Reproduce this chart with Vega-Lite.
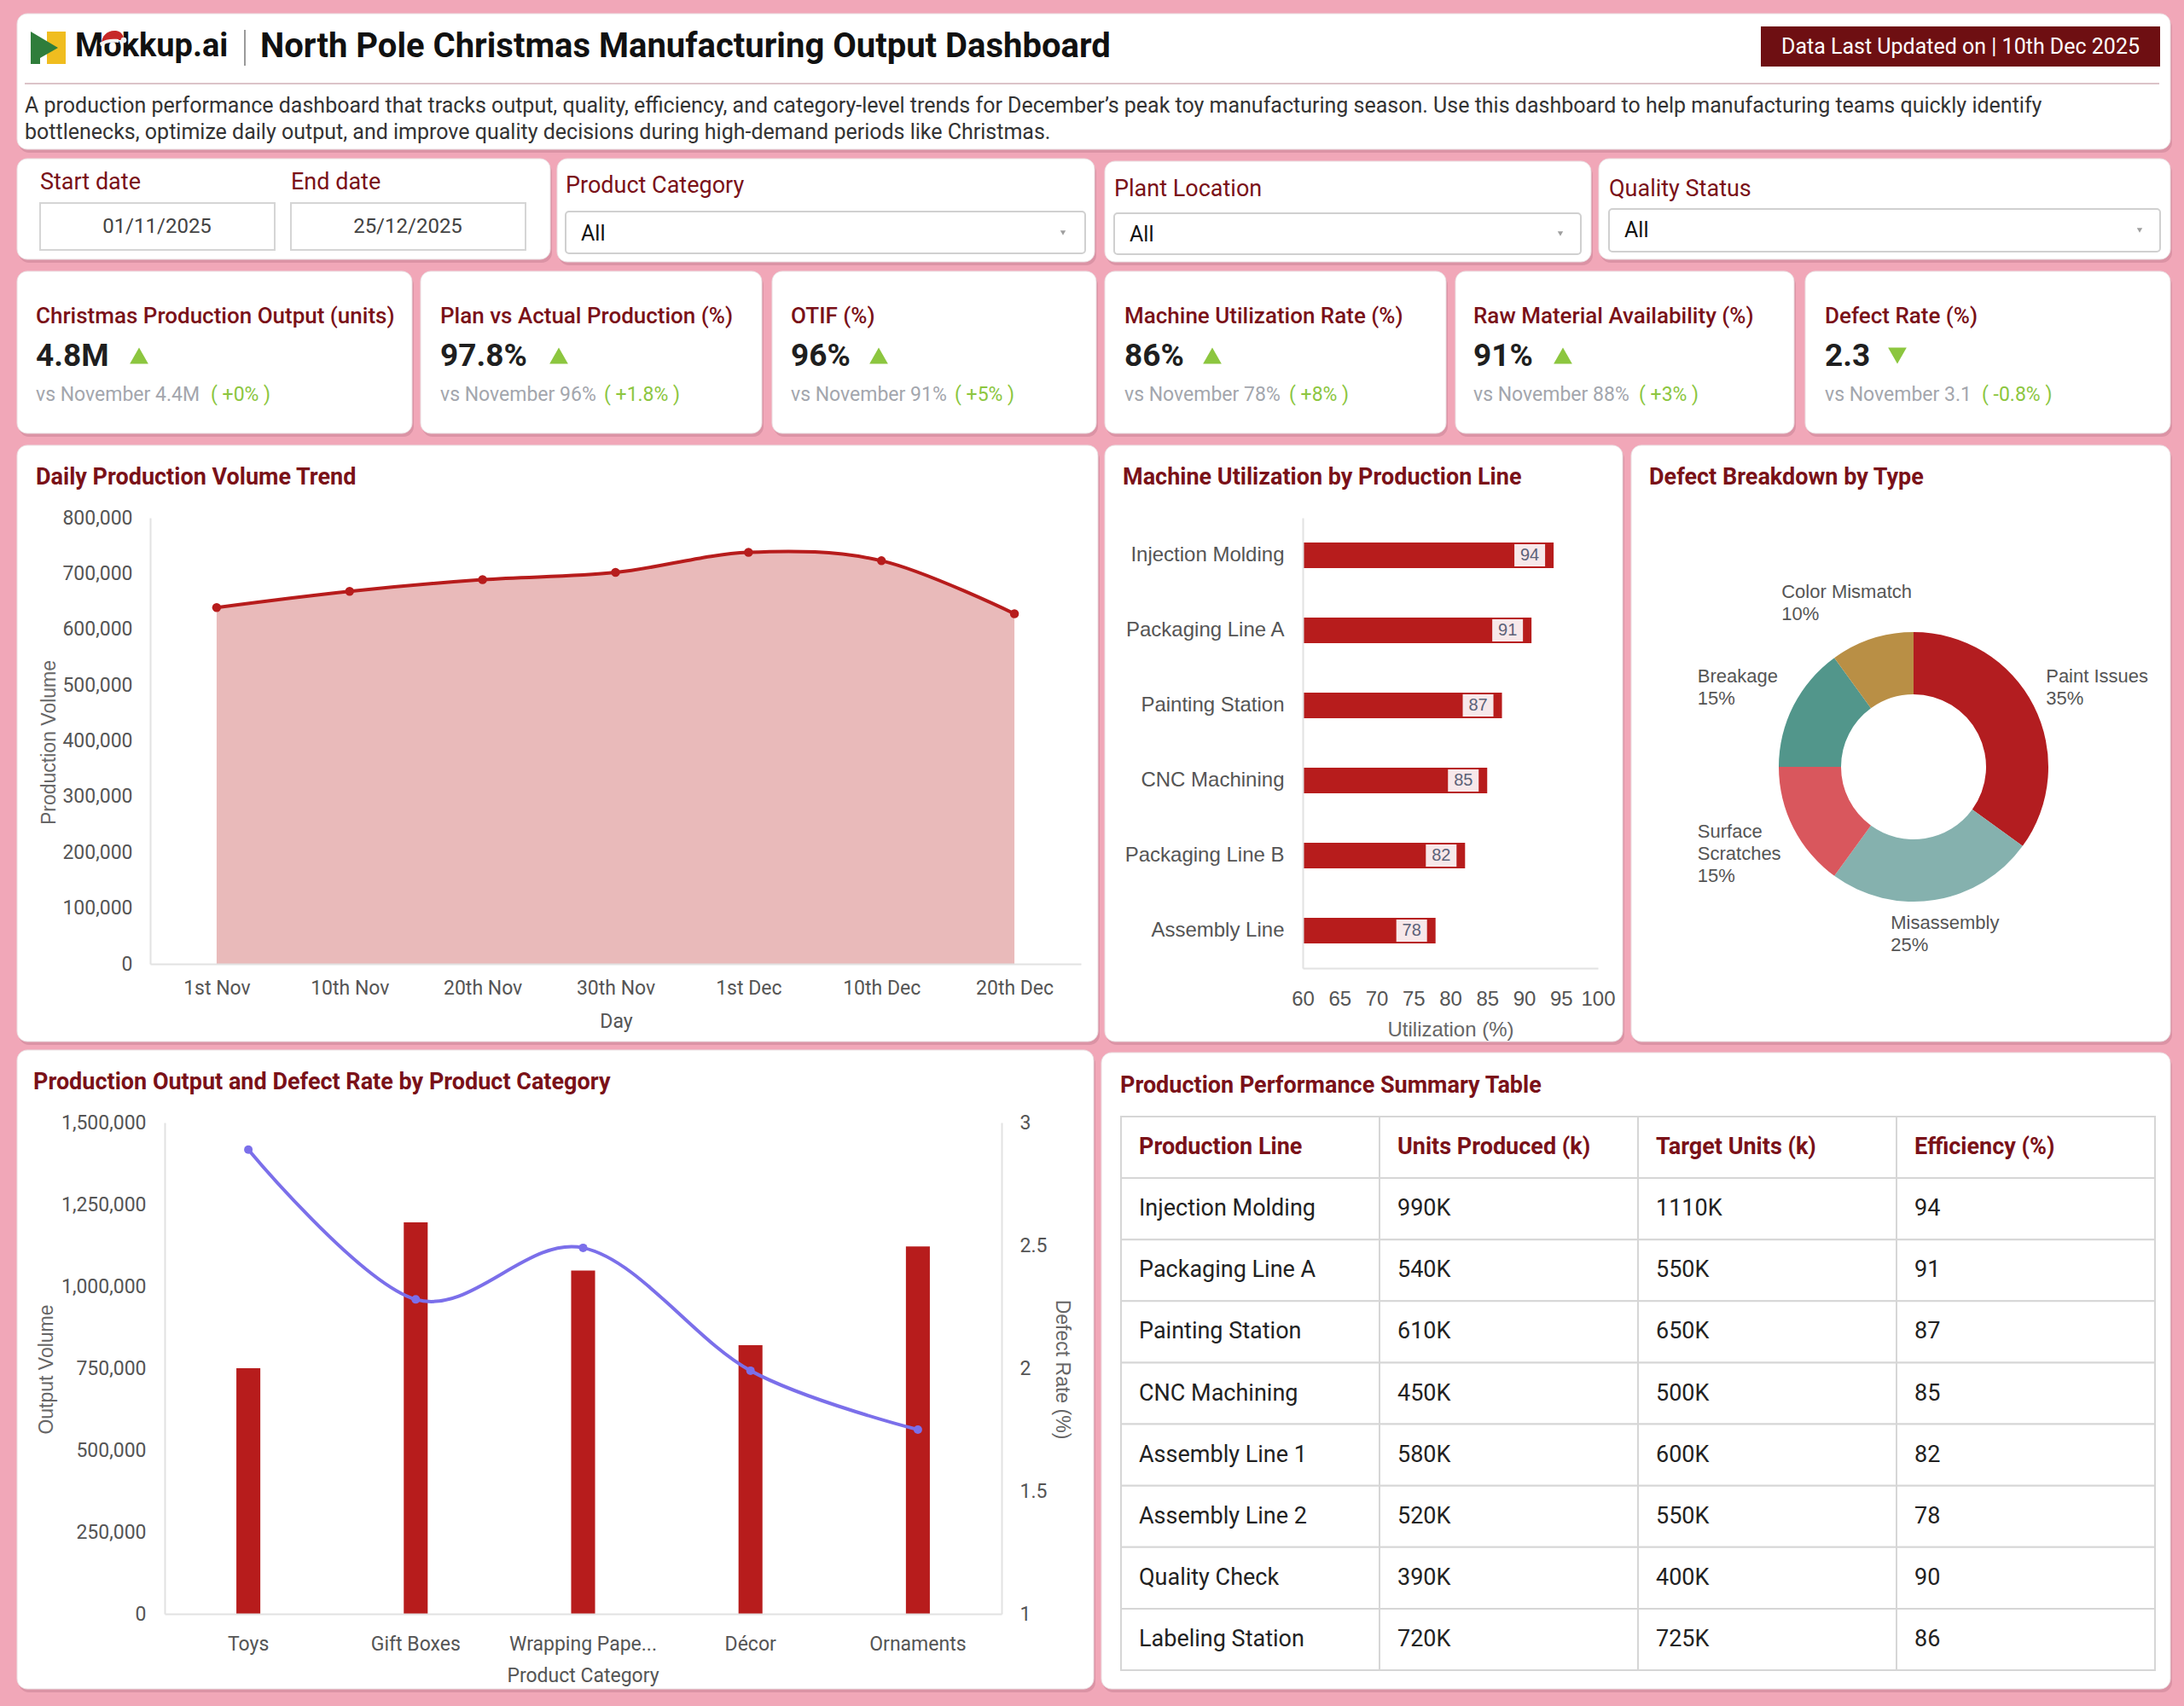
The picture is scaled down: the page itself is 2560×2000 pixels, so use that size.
{
  "$schema": "https://vega.github.io/schema/vega-lite/v6.json",
  "width": 2560,
  "height": 2000,
  "autosize": {"type": "none"},
  "padding": 0,
  "background": "#F1A7B8",
  "config": {
    "view": {"stroke": null},
    "font": "Roboto",
    "text": {"font": "Roboto"},
    "axis": {
      "labelFont": "Roboto", "labelFontSize": 23, "labelColor": "#555555",
      "titleFont": "Liberation Sans", "titleFontSize": 23, "titleColor": "#666666", "titleFontWeight": "normal",
      "domainColor": "#E2E2E2", "domainWidth": 2, "ticks": false, "tickSize": 0, "grid": false,
      "labelOverlap": false, "labelFlush": false, "labelAngle": 0, "labelBound": false, "labelLimit": 400
    }
  },
  "data": {"values": [{}]},
  "resolve": {
    "scale": {"x": "independent", "y": "independent", "color": "independent"},
    "axis": {"x": "independent", "y": "independent"}
  },
  "layer": [
    {"mark": {"type": "rect", "fill": "#c67f91", "opacity": 0.5, "cornerRadius": 12}, "encoding": {"x": {"value": 22}, "x2": {"value": 2546}, "y": {"value": 20}, "y2": {"value": 179}}},
    {"mark": {"type": "rect", "fill": "#ffffff", "cornerRadius": 12, "stroke": "#eadfe2", "strokeWidth": 1}, "encoding": {"x": {"value": 20}, "x2": {"value": 2544}, "y": {"value": 16}, "y2": {"value": 175}}},

    {"mark": {"type": "rect", "fill": "#c67f91", "opacity": 0.5, "cornerRadius": 12}, "encoding": {"x": {"value": 22}, "x2": {"value": 647}, "y": {"value": 190}, "y2": {"value": 308}}},
    {"mark": {"type": "rect", "fill": "#ffffff", "cornerRadius": 12, "stroke": "#eadfe2", "strokeWidth": 1}, "encoding": {"x": {"value": 20}, "x2": {"value": 645}, "y": {"value": 186}, "y2": {"value": 304}}},
    {"mark": {"type": "rect", "fill": "#c67f91", "opacity": 0.5, "cornerRadius": 12}, "encoding": {"x": {"value": 655}, "x2": {"value": 1285}, "y": {"value": 190}, "y2": {"value": 311}}},
    {"mark": {"type": "rect", "fill": "#ffffff", "cornerRadius": 12, "stroke": "#eadfe2", "strokeWidth": 1}, "encoding": {"x": {"value": 653}, "x2": {"value": 1283}, "y": {"value": 186}, "y2": {"value": 307}}},
    {"mark": {"type": "rect", "fill": "#c67f91", "opacity": 0.5, "cornerRadius": 12}, "encoding": {"x": {"value": 1297}, "x2": {"value": 1867}, "y": {"value": 193}, "y2": {"value": 311}}},
    {"mark": {"type": "rect", "fill": "#ffffff", "cornerRadius": 12, "stroke": "#eadfe2", "strokeWidth": 1}, "encoding": {"x": {"value": 1295}, "x2": {"value": 1865}, "y": {"value": 189}, "y2": {"value": 307}}},
    {"mark": {"type": "rect", "fill": "#c67f91", "opacity": 0.5, "cornerRadius": 12}, "encoding": {"x": {"value": 1876}, "x2": {"value": 2546}, "y": {"value": 190}, "y2": {"value": 308}}},
    {"mark": {"type": "rect", "fill": "#ffffff", "cornerRadius": 12, "stroke": "#eadfe2", "strokeWidth": 1}, "encoding": {"x": {"value": 1874}, "x2": {"value": 2544}, "y": {"value": 186}, "y2": {"value": 304}}},

    {"mark": {"type": "rect", "fill": "#c67f91", "opacity": 0.5, "cornerRadius": 12}, "encoding": {"x": {"value": 22}, "x2": {"value": 485}, "y": {"value": 322}, "y2": {"value": 512}}},
    {"mark": {"type": "rect", "fill": "#ffffff", "cornerRadius": 12, "stroke": "#eadfe2", "strokeWidth": 1}, "encoding": {"x": {"value": 20}, "x2": {"value": 483}, "y": {"value": 318}, "y2": {"value": 508}}},
    {"mark": {"type": "rect", "fill": "#c67f91", "opacity": 0.5, "cornerRadius": 12}, "encoding": {"x": {"value": 495}, "x2": {"value": 895}, "y": {"value": 322}, "y2": {"value": 512}}},
    {"mark": {"type": "rect", "fill": "#ffffff", "cornerRadius": 12, "stroke": "#eadfe2", "strokeWidth": 1}, "encoding": {"x": {"value": 493}, "x2": {"value": 893}, "y": {"value": 318}, "y2": {"value": 508}}},
    {"mark": {"type": "rect", "fill": "#c67f91", "opacity": 0.5, "cornerRadius": 12}, "encoding": {"x": {"value": 907}, "x2": {"value": 1287}, "y": {"value": 322}, "y2": {"value": 512}}},
    {"mark": {"type": "rect", "fill": "#ffffff", "cornerRadius": 12, "stroke": "#eadfe2", "strokeWidth": 1}, "encoding": {"x": {"value": 905}, "x2": {"value": 1285}, "y": {"value": 318}, "y2": {"value": 508}}},
    {"mark": {"type": "rect", "fill": "#c67f91", "opacity": 0.5, "cornerRadius": 12}, "encoding": {"x": {"value": 1297}, "x2": {"value": 1697}, "y": {"value": 322}, "y2": {"value": 512}}},
    {"mark": {"type": "rect", "fill": "#ffffff", "cornerRadius": 12, "stroke": "#eadfe2", "strokeWidth": 1}, "encoding": {"x": {"value": 1295}, "x2": {"value": 1695}, "y": {"value": 318}, "y2": {"value": 508}}},
    {"mark": {"type": "rect", "fill": "#c67f91", "opacity": 0.5, "cornerRadius": 12}, "encoding": {"x": {"value": 1708}, "x2": {"value": 2105}, "y": {"value": 322}, "y2": {"value": 512}}},
    {"mark": {"type": "rect", "fill": "#ffffff", "cornerRadius": 12, "stroke": "#eadfe2", "strokeWidth": 1}, "encoding": {"x": {"value": 1706}, "x2": {"value": 2103}, "y": {"value": 318}, "y2": {"value": 508}}},
    {"mark": {"type": "rect", "fill": "#c67f91", "opacity": 0.5, "cornerRadius": 12}, "encoding": {"x": {"value": 2118}, "x2": {"value": 2546}, "y": {"value": 322}, "y2": {"value": 512}}},
    {"mark": {"type": "rect", "fill": "#ffffff", "cornerRadius": 12, "stroke": "#eadfe2", "strokeWidth": 1}, "encoding": {"x": {"value": 2116}, "x2": {"value": 2544}, "y": {"value": 318}, "y2": {"value": 508}}},

    {"mark": {"type": "rect", "fill": "#c67f91", "opacity": 0.5, "cornerRadius": 12}, "encoding": {"x": {"value": 22}, "x2": {"value": 1289}, "y": {"value": 526}, "y2": {"value": 1225}}},
    {"mark": {"type": "rect", "fill": "#ffffff", "cornerRadius": 12, "stroke": "#eadfe2", "strokeWidth": 1}, "encoding": {"x": {"value": 20}, "x2": {"value": 1287}, "y": {"value": 522}, "y2": {"value": 1221}}},
    {"mark": {"type": "rect", "fill": "#c67f91", "opacity": 0.5, "cornerRadius": 12}, "encoding": {"x": {"value": 1297}, "x2": {"value": 1904}, "y": {"value": 526}, "y2": {"value": 1225}}},
    {"mark": {"type": "rect", "fill": "#ffffff", "cornerRadius": 12, "stroke": "#eadfe2", "strokeWidth": 1}, "encoding": {"x": {"value": 1295}, "x2": {"value": 1902}, "y": {"value": 522}, "y2": {"value": 1221}}},
    {"mark": {"type": "rect", "fill": "#c67f91", "opacity": 0.5, "cornerRadius": 12}, "encoding": {"x": {"value": 1914}, "x2": {"value": 2546}, "y": {"value": 526}, "y2": {"value": 1225}}},
    {"mark": {"type": "rect", "fill": "#ffffff", "cornerRadius": 12, "stroke": "#eadfe2", "strokeWidth": 1}, "encoding": {"x": {"value": 1912}, "x2": {"value": 2544}, "y": {"value": 522}, "y2": {"value": 1221}}},

    {"mark": {"type": "rect", "fill": "#c67f91", "opacity": 0.5, "cornerRadius": 12}, "encoding": {"x": {"value": 22}, "x2": {"value": 1284}, "y": {"value": 1235}, "y2": {"value": 1984}}},
    {"mark": {"type": "rect", "fill": "#ffffff", "cornerRadius": 12, "stroke": "#eadfe2", "strokeWidth": 1}, "encoding": {"x": {"value": 20}, "x2": {"value": 1282}, "y": {"value": 1231}, "y2": {"value": 1980}}},
    {"mark": {"type": "rect", "fill": "#c67f91", "opacity": 0.5, "cornerRadius": 12}, "encoding": {"x": {"value": 1293}, "x2": {"value": 2546}, "y": {"value": 1238}, "y2": {"value": 1984}}},
    {"mark": {"type": "rect", "fill": "#ffffff", "cornerRadius": 12, "stroke": "#eadfe2", "strokeWidth": 1}, "encoding": {"x": {"value": 1291}, "x2": {"value": 2544}, "y": {"value": 1234}, "y2": {"value": 1980}}},

    {"mark": {"type": "point", "shape": "M55,37H77V75H55Z", "size": 4, "filled": true, "color": "#F0BD1F", "opacity": 1}, "encoding": {"x": {"value": 0}, "y": {"value": 0}}},
    {"mark": {"type": "point", "shape": "M36,37L68,56L47,68V75H36Z", "size": 4, "filled": true, "color": "#2F7D3B", "opacity": 1}, "encoding": {"x": {"value": 0}, "y": {"value": 0}}},
    {"mark": {"type": "text", "text": "Mokkup.ai", "align": "left", "baseline": "middle", "fontSize": 38, "fontWeight": "bold", "color": "#111111"}, "encoding": {"x": {"value": 88}, "y": {"value": 55}}},
    {"mark": {"type": "point", "shape": "M119,51C119,42 126,35 136,36C142,37 145,41 145,47L139,47C134,45 128,47 125,51Z", "size": 4, "filled": true, "color": "#C62828", "opacity": 1}, "encoding": {"x": {"value": 0}, "y": {"value": 0}}},
    {"mark": {"type": "point", "shape": "M117,50C123,46 131,45 139,46L139,50C131,49 124,50 118,54Z", "size": 4, "filled": true, "color": "#F4F4F4", "opacity": 1}, "encoding": {"x": {"value": 0}, "y": {"value": 0}}},
    {"mark": {"type": "point", "shape": "circle", "size": 45, "filled": true, "color": "#F4F4F4", "opacity": 1}, "encoding": {"x": {"value": 145}, "y": {"value": 47}}},
    {"mark": {"type": "rule", "color": "#9a9a9a", "strokeWidth": 2}, "encoding": {"x": {"value": 287}, "y": {"value": 35}, "y2": {"value": 77}}},
    {"mark": {"type": "text", "text": "North Pole Christmas Manufacturing Output Dashboard", "align": "left", "baseline": "middle", "fontSize": 40, "fontWeight": "bold", "color": "#111111"}, "encoding": {"x": {"value": 305}, "y": {"value": 55}}},
    {"mark": {"type": "rect", "fill": "#6E0F12"}, "encoding": {"x": {"value": 2064}, "x2": {"value": 2532}, "y": {"value": 31}, "y2": {"value": 78}}},
    {"mark": {"type": "text", "text": "Data Last Updated on | 10th Dec 2025", "align": "center", "baseline": "middle", "fontSize": 25, "color": "#ffffff"}, "encoding": {"x": {"value": 2298}, "y": {"value": 55}}},
    {"mark": {"type": "rule", "color": "#DCC3C8", "strokeWidth": 2}, "encoding": {"x": {"value": 29}, "x2": {"value": 2531}, "y": {"value": 98}}},
    {"mark": {"type": "text", "text": "A production performance dashboard that tracks output, quality, efficiency, and category-level trends for December’s peak toy manufacturing season. Use this dashboard to help manufacturing teams quickly identify", "align": "left", "baseline": "middle", "fontSize": 25, "color": "#333333"}, "encoding": {"x": {"value": 29}, "y": {"value": 124}}},
    {"mark": {"type": "text", "text": "bottlenecks, optimize daily output, and improve quality decisions during high-demand periods like Christmas.", "align": "left", "baseline": "middle", "fontSize": 25, "color": "#333333"}, "encoding": {"x": {"value": 29}, "y": {"value": 155}}},

    {"mark": {"type": "text", "text": "Start date", "align": "left", "baseline": "middle", "fontSize": 27, "color": "#7A1118"}, "encoding": {"x": {"value": 47}, "y": {"value": 214}}},
    {"mark": {"type": "text", "text": "End date", "align": "left", "baseline": "middle", "fontSize": 27, "color": "#7A1118"}, "encoding": {"x": {"value": 341}, "y": {"value": 214}}},
    {"mark": {"type": "rect", "fill": "#ffffff", "stroke": "#d5d5d5", "strokeWidth": 2}, "encoding": {"x": {"value": 47}, "x2": {"value": 322}, "y": {"value": 238}, "y2": {"value": 293}}},
    {"mark": {"type": "rect", "fill": "#ffffff", "stroke": "#d5d5d5", "strokeWidth": 2}, "encoding": {"x": {"value": 341}, "x2": {"value": 616}, "y": {"value": 238}, "y2": {"value": 293}}},
    {"mark": {"type": "text", "text": "01/11/2025", "align": "center", "baseline": "middle", "fontSize": 24, "color": "#444444"}, "encoding": {"x": {"value": 184}, "y": {"value": 266}}},
    {"mark": {"type": "text", "text": "25/12/2025", "align": "center", "baseline": "middle", "fontSize": 24, "color": "#444444"}, "encoding": {"x": {"value": 478}, "y": {"value": 266}}},
    {"mark": {"type": "text", "text": "Product Category", "align": "left", "baseline": "middle", "fontSize": 27, "color": "#7A1118"}, "encoding": {"x": {"value": 663}, "y": {"value": 218}}},
    {"mark": {"type": "rect", "fill": "#ffffff", "stroke": "#d0d0d0", "strokeWidth": 2, "cornerRadius": 4}, "encoding": {"x": {"value": 663}, "x2": {"value": 1272}, "y": {"value": 248}, "y2": {"value": 297}}},
    {"mark": {"type": "text", "text": "All", "align": "left", "baseline": "middle", "fontSize": 25, "color": "#111111"}, "encoding": {"x": {"value": 681}, "y": {"value": 274}}},
    {"mark": {"type": "point", "shape": "triangle-down", "size": 40, "filled": true, "color": "#9e9e9e", "opacity": 1}, "encoding": {"x": {"value": 1246}, "y": {"value": 273}}},
    {"mark": {"type": "text", "text": "Plant Location", "align": "left", "baseline": "middle", "fontSize": 27, "color": "#7A1118"}, "encoding": {"x": {"value": 1306}, "y": {"value": 222}}},
    {"mark": {"type": "rect", "fill": "#ffffff", "stroke": "#d0d0d0", "strokeWidth": 2, "cornerRadius": 4}, "encoding": {"x": {"value": 1306}, "x2": {"value": 1853}, "y": {"value": 250}, "y2": {"value": 298}}},
    {"mark": {"type": "text", "text": "All", "align": "left", "baseline": "middle", "fontSize": 25, "color": "#111111"}, "encoding": {"x": {"value": 1324}, "y": {"value": 275}}},
    {"mark": {"type": "point", "shape": "triangle-down", "size": 40, "filled": true, "color": "#9e9e9e", "opacity": 1}, "encoding": {"x": {"value": 1829}, "y": {"value": 274}}},
    {"mark": {"type": "text", "text": "Quality Status", "align": "left", "baseline": "middle", "fontSize": 27, "color": "#7A1118"}, "encoding": {"x": {"value": 1886}, "y": {"value": 222}}},
    {"mark": {"type": "rect", "fill": "#ffffff", "stroke": "#d0d0d0", "strokeWidth": 2, "cornerRadius": 4}, "encoding": {"x": {"value": 1886}, "x2": {"value": 2532}, "y": {"value": 245}, "y2": {"value": 295}}},
    {"mark": {"type": "text", "text": "All", "align": "left", "baseline": "middle", "fontSize": 25, "color": "#111111"}, "encoding": {"x": {"value": 1904}, "y": {"value": 270}}},
    {"mark": {"type": "point", "shape": "triangle-down", "size": 40, "filled": true, "color": "#9e9e9e", "opacity": 1}, "encoding": {"x": {"value": 2508}, "y": {"value": 270}}},

    {
      "data": {"values": [
        {"seq": 1, "kpi": "Christmas Production Output (units)", "value": "4.8M", "prev": "4.4M", "delta": "+0%", "dir": "up"},
        {"seq": 2, "kpi": "Plan vs Actual Production (%)", "value": "97.8%", "prev": "96%", "delta": "+1.8%", "dir": "up"},
        {"seq": 3, "kpi": "OTIF (%)", "value": "96%", "prev": "91%", "delta": "+5%", "dir": "up"},
        {"seq": 4, "kpi": "Machine Utilization Rate (%)", "value": "86%", "prev": "78%", "delta": "+8%", "dir": "up"},
        {"seq": 5, "kpi": "Raw Material Availability (%)", "value": "91%", "prev": "88%", "delta": "+3%", "dir": "up"},
        {"seq": 6, "kpi": "Defect Rate (%)", "value": "2.3", "prev": "3.1", "delta": "-0.8%", "dir": "down"}
      ]},
      "transform": [
        {"calculate": "'vs November ' + datum.prev", "as": "cmp"},
        {"calculate": "'( ' + datum.delta + ' )'", "as": "dtxt"}
      ],
      "layer": [
        {
          "encoding": {
            "x": {"field": "seq", "type": "quantitative", "scale": {"domain": [1, 2, 3, 4, 5, 6], "range": [42, 516, 927, 1318, 1727, 2139], "nice": false, "zero": false}, "axis": null}
          },
          "layer": [
            {"mark": {"type": "text", "align": "left", "baseline": "middle", "fontSize": 26, "fontWeight": 500, "color": "#7A1118"}, "encoding": {"y": {"value": 371}, "text": {"field": "kpi"}}},
            {"mark": {"type": "text", "align": "left", "baseline": "middle", "fontSize": 37, "fontWeight": "bold", "color": "#1F1F1F"}, "encoding": {"y": {"value": 418}, "text": {"field": "value"}}},
            {"mark": {"type": "text", "align": "left", "baseline": "middle", "fontSize": 23, "color": "#A3A6AD"}, "encoding": {"y": {"value": 463}, "text": {"field": "cmp"}}}
          ]
        },
        {
          "mark": {"type": "point", "filled": true, "size": 470, "color": "#8CC63F", "opacity": 1},
          "encoding": {
            "x": {"field": "seq", "type": "quantitative", "scale": {"domain": [1, 2, 3, 4, 5, 6], "range": [163, 655, 1030, 1421, 1832, 2224], "nice": false, "zero": false}, "axis": null},
            "y": {"value": 417},
            "shape": {"field": "dir", "type": "nominal", "scale": {"domain": ["up", "down"], "range": ["triangle-up", "triangle-down"]}, "legend": null}
          }
        },
        {
          "mark": {"type": "text", "align": "left", "baseline": "middle", "fontSize": 23, "color": "#8CC63F"},
          "encoding": {
            "x": {"field": "seq", "type": "quantitative", "scale": {"domain": [1, 2, 3, 4, 5, 6], "range": [247, 708, 1119, 1511, 1921, 2323], "nice": false, "zero": false}, "axis": null},
            "y": {"value": 463},
            "text": {"field": "dtxt"}
          }
        }
      ],
      "resolve": {"scale": {"x": "independent"}}
    },

    {"mark": {"type": "text", "text": "Daily Production Volume Trend", "align": "left", "baseline": "middle", "fontSize": 27, "fontWeight": "bold", "color": "#7A1118"}, "encoding": {"x": {"value": 42}, "y": {"value": 560}}},
    {"mark": {"type": "text", "text": "Machine Utilization by Production Line", "align": "left", "baseline": "middle", "fontSize": 27, "fontWeight": "bold", "color": "#7A1118"}, "encoding": {"x": {"value": 1316}, "y": {"value": 560}}},
    {"mark": {"type": "text", "text": "Defect Breakdown by Type", "align": "left", "baseline": "middle", "fontSize": 27, "fontWeight": "bold", "color": "#7A1118"}, "encoding": {"x": {"value": 1933}, "y": {"value": 560}}},
    {"mark": {"type": "text", "text": "Production Output and Defect Rate by Product Category", "align": "left", "baseline": "middle", "fontSize": 27, "fontWeight": "bold", "color": "#7A1118"}, "encoding": {"x": {"value": 39}, "y": {"value": 1269}}},
    {"mark": {"type": "text", "text": "Production Performance Summary Table", "align": "left", "baseline": "middle", "fontSize": 27, "fontWeight": "bold", "color": "#7A1118"}, "encoding": {"x": {"value": 1313}, "y": {"value": 1273}}},

    {
      "data": {"values": [
        {"day": "1st Nov", "volume": 639000},
        {"day": "10th Nov", "volume": 668000},
        {"day": "20th Nov", "volume": 689000},
        {"day": "30th Nov", "volume": 702000},
        {"day": "1st Dec", "volume": 738000},
        {"day": "10th Dec", "volume": 723000},
        {"day": "20th Dec", "volume": 628000}
      ]},
      "encoding": {
        "x": {"field": "day", "type": "ordinal", "sort": null,
          "scale": {"type": "point", "domain": ["1st Nov", "10th Nov", "20th Nov", "30th Nov", "1st Dec", "10th Dec", "20th Dec"], "range": [176, 1267], "padding": 0.5},
          "axis": {"zindex": 1, "orient": "bottom", "offset": -870, "labelPadding": 17, "title": "Day", "titleFont": "Roboto", "titleColor": "#555555", "titleX": 722, "titleY": 67, "titleBaseline": "middle", "titleAlign": "center"}},
        "y": {"field": "volume", "type": "quantitative",
          "scale": {"domain": [0, 800000], "range": [1130, 607], "nice": false, "zero": true},
          "axis": {"zindex": 1, "orient": "left", "offset": -176, "values": [0, 100000, 200000, 300000, 400000, 500000, 600000, 700000, 800000], "format": ",d", "labelPadding": 21, "title": "Production Volume", "titleX": -119, "titleY": 870, "titleAngle": -90, "titleBaseline": "middle", "titleAlign": "center"}}
      },
      "layer": [
        {"mark": {"type": "area", "interpolate": "cardinal", "color": "#B71C1C", "opacity": 0.3}},
        {"mark": {"type": "line", "interpolate": "cardinal", "color": "#B71C1C", "strokeWidth": 4}},
        {"mark": {"type": "point", "filled": true, "color": "#B71C1C", "size": 110, "opacity": 1}}
      ]
    },

    {
      "data": {"values": [
        {"line": "Injection Molding", "util": 94},
        {"line": "Packaging Line A", "util": 91},
        {"line": "Painting Station", "util": 87},
        {"line": "CNC Machining", "util": 85},
        {"line": "Packaging Line B", "util": 82},
        {"line": "Assembly Line", "util": 78}
      ]},
      "encoding": {
        "y": {"field": "line", "type": "nominal", "sort": null,
          "scale": {"domain": ["Injection Molding", "Packaging Line A", "Painting Station", "CNC Machining", "Packaging Line B", "Assembly Line"], "range": [607, 1135], "paddingInner": 0.66, "paddingOuter": 0.33},
          "axis": {"zindex": 1, "orient": "left", "offset": -1527, "labelFont": "Liberation Sans", "labelFontSize": 24, "labelPadding": 22, "labelLimit": 400, "title": null}},
        "x": {"field": "util", "type": "quantitative",
          "scale": {"domain": [60, 100], "range": [1527, 1873], "nice": false, "zero": false},
          "axis": {"zindex": 1, "orient": "bottom", "offset": -865, "values": [60, 65, 70, 75, 80, 85, 90, 95, 100], "labelFont": "Liberation Sans", "labelFontSize": 24, "labelPadding": 24, "title": "Utilization (%)", "titleFontSize": 24, "titleX": 1700, "titleY": 72, "titleBaseline": "middle", "titleAlign": "center"}}
      },
      "layer": [
        {"mark": {"type": "bar", "color": "#B71C1C"}, "encoding": {"x2": {"datum": 60}}},
        {"mark": {"type": "point", "shape": "M-46,-13H-10V13H-46Z", "size": 4, "filled": true, "color": "#F7E8EA", "opacity": 1}},
        {"mark": {"type": "text", "dx": -28, "align": "center", "baseline": "middle", "fontSize": 20, "font": "Liberation Sans", "color": "#5B6178"}, "encoding": {"text": {"field": "util", "type": "quantitative"}}}
      ]
    },

    {
      "data": {"values": [
        {"type": "Paint Issues", "share": 35, "seq": 1},
        {"type": "Misassembly", "share": 25, "seq": 2},
        {"type": "Surface Scratches", "share": 15, "seq": 3},
        {"type": "Breakage", "share": 15, "seq": 4},
        {"type": "Color Mismatch", "share": 10, "seq": 5}
      ]},
      "transform": [
        {"stack": "share", "groupby": [], "sort": [{"field": "seq", "order": "ascending"}], "as": ["s0", "s1"]},
        {"calculate": "(datum.s0 + datum.s1) / 2", "as": "mid"},
        {"calculate": "(datum.type == 'Surface Scratches' ? 'Surface|Scratches' : datum.type) + '|' + datum.share + '%'", "as": "lbl"}
      ],
      "layer": [
        {"mark": {"type": "arc", "outerRadius": 158, "innerRadius": 85},
          "encoding": {
            "theta": {"field": "s0", "type": "quantitative", "scale": {"domain": [0, 100], "range": [0, 6.283185307]}},
            "theta2": {"field": "s1"},
            "color": {"field": "type", "type": "nominal", "scale": {"domain": ["Paint Issues", "Misassembly", "Surface Scratches", "Breakage", "Color Mismatch"], "range": ["#B31D20", "#85B1AE", "#D9575D", "#52968B", "#B98F45"]}, "legend": null},
            "x": {"value": 2243}, "y": {"value": 899}
          }},
        {"transform": [{"filter": "datum.seq == 1"}],
          "mark": {"type": "text", "radius": 200, "dx": -23, "dy": -15, "align": "left", "baseline": "middle", "lineBreak": "|", "lineHeight": 26, "fontSize": 22, "font": "Liberation Sans", "color": "#555555"},
          "encoding": {"theta": {"field": "mid", "type": "quantitative", "scale": {"domain": [0, 100], "range": [0, 6.283185307]}}, "text": {"field": "lbl"}, "x": {"value": 2243}, "y": {"value": 899}}},
        {"transform": [{"filter": "datum.seq == 2"}],
          "mark": {"type": "text", "radius": 200, "dx": -58, "dy": -15, "align": "left", "baseline": "middle", "lineBreak": "|", "lineHeight": 26, "fontSize": 22, "font": "Liberation Sans", "color": "#555555"},
          "encoding": {"theta": {"field": "mid", "type": "quantitative", "scale": {"domain": [0, 100], "range": [0, 6.283185307]}}, "text": {"field": "lbl"}, "x": {"value": 2243}, "y": {"value": 899}}},
        {"transform": [{"filter": "datum.seq == 3 || datum.seq == 4"}],
          "mark": {"type": "text", "radius": 200, "dx": -75, "dy": -15, "align": "left", "baseline": "middle", "lineBreak": "|", "lineHeight": 26, "fontSize": 22, "font": "Liberation Sans", "color": "#555555"},
          "encoding": {"theta": {"field": "mid", "type": "quantitative", "scale": {"domain": [0, 100], "range": [0, 6.283185307]}}, "text": {"field": "lbl"}, "x": {"value": 2243}, "y": {"value": 899}}},
        {"transform": [{"filter": "datum.seq == 5"}],
          "mark": {"type": "text", "radius": 200, "dx": -93, "dy": -15, "align": "left", "baseline": "middle", "lineBreak": "|", "lineHeight": 26, "fontSize": 22, "font": "Liberation Sans", "color": "#555555"},
          "encoding": {"theta": {"field": "mid", "type": "quantitative", "scale": {"domain": [0, 100], "range": [0, 6.283185307]}}, "text": {"field": "lbl"}, "x": {"value": 2243}, "y": {"value": 899}}}
      ]
    },

    {
      "data": {"values": [
        {"cat": "Toys", "output": 750000, "defect": 2.89},
        {"cat": "Gift Boxes", "output": 1195000, "defect": 2.28},
        {"cat": "Wrapping Paper", "output": 1048000, "defect": 2.49},
        {"cat": "Décor", "output": 820000, "defect": 1.99},
        {"cat": "Ornaments", "output": 1122000, "defect": 1.75}
      ]},
      "encoding": {
        "x": {"field": "cat", "type": "nominal", "sort": null,
          "scale": {"domain": ["Toys", "Gift Boxes", "Wrapping Paper", "Décor", "Ornaments"], "range": [193, 1174], "paddingInner": 0.857, "paddingOuter": 0.4285},
          "axis": {"zindex": 1, "orient": "bottom", "offset": -108, "labelPadding": 24, "labelExpr": "datum.label == 'Wrapping Paper' ? 'Wrapping Pape...' : datum.label", "title": "Product Category", "titleFont": "Roboto", "titleColor": "#555555", "titleX": 683, "titleY": 72, "titleBaseline": "middle", "titleAlign": "center"}}
      },
      "layer": [
        {"mark": {"type": "bar", "color": "#B71C1C"},
          "encoding": {"y": {"field": "output", "type": "quantitative",
            "scale": {"domain": [0, 1500000], "range": [1892, 1316], "nice": false, "zero": true},
            "axis": {"zindex": 1, "orient": "left", "offset": -193, "values": [0, 250000, 500000, 750000, 1000000, 1250000, 1500000], "format": ",d", "labelPadding": 22, "title": "Output Volume", "titleX": -139, "titleY": 1605, "titleAngle": -90, "titleBaseline": "middle", "titleAlign": "center"}}}},
        {"encoding": {"y": {"field": "defect", "type": "quantitative",
            "scale": {"domain": [1, 3], "range": [1892, 1316], "nice": false, "zero": false},
            "axis": {"zindex": 1, "orient": "right", "offset": -1386, "values": [1, 1.5, 2, 2.5, 3], "format": "~g", "labelPadding": 21, "title": "Defect Rate (%)", "titleX": 70, "titleY": 1605, "titleAngle": 90, "titleBaseline": "middle", "titleAlign": "center"}}},
          "layer": [
            {"mark": {"type": "line", "interpolate": "cardinal", "color": "#7B6FEA", "strokeWidth": 4}},
            {"mark": {"type": "point", "filled": true, "color": "#7B6FEA", "size": 100, "opacity": 1}}
          ]}
      ],
      "resolve": {"scale": {"y": "independent"}, "axis": {"y": "independent"}}
    },

    {
      "encoding": {
        "x": {"field": "col", "type": "nominal", "scale": {"domain": ["line", "units_k", "target_k", "efficiency"], "range": [1314, 2526], "paddingInner": 0, "paddingOuter": 0}, "axis": null},
        "y": {"field": "line", "type": "nominal", "scale": {"domain": ["header", "Injection Molding", "Packaging Line A", "Painting Station", "CNC Machining", "Assembly Line 1", "Assembly Line 2", "Quality Check", "Labeling Station"], "range": [1309, 1958], "paddingInner": 0, "paddingOuter": 0}, "axis": null}
      },
      "layer": [
        {
          "data": {"values": [
            {"col": "line", "line": "header", "head": "Production Line"},
            {"col": "units_k", "line": "header", "head": "Units Produced (k)"},
            {"col": "target_k", "line": "header", "head": "Target Units (k)"},
            {"col": "efficiency", "line": "header", "head": "Efficiency (%)"}
          ]},
          "layer": [
            {"mark": {"type": "rect", "fill": "#ffffff", "stroke": "#D6D6D6", "strokeWidth": 2}},
            {"mark": {"type": "text", "align": "left", "dx": 21, "baseline": "middle", "fontSize": 27, "fontWeight": "bold", "color": "#7A1118"},
              "encoding": {"text": {"field": "head"}, "x": {"field": "col", "type": "nominal", "bandPosition": 0, "axis": null}}}
          ]
        },
        {
          "data": {"values": [
            {"line": "Injection Molding", "units_k": 990, "target_k": 1110, "efficiency": 94},
            {"line": "Packaging Line A", "units_k": 540, "target_k": 550, "efficiency": 91},
            {"line": "Painting Station", "units_k": 610, "target_k": 650, "efficiency": 87},
            {"line": "CNC Machining", "units_k": 450, "target_k": 500, "efficiency": 85},
            {"line": "Assembly Line 1", "units_k": 580, "target_k": 600, "efficiency": 82},
            {"line": "Assembly Line 2", "units_k": 520, "target_k": 550, "efficiency": 78},
            {"line": "Quality Check", "units_k": 390, "target_k": 400, "efficiency": 90},
            {"line": "Labeling Station", "units_k": 720, "target_k": 725, "efficiency": 86}
          ]},
          "transform": [
            {"fold": ["line", "units_k", "target_k", "efficiency"], "as": ["col", "val"]},
            {"calculate": "datum.col == 'units_k' || datum.col == 'target_k' ? datum.val + 'K' : '' + datum.val", "as": "txt"}
          ],
          "layer": [
            {"mark": {"type": "rect", "fill": "#ffffff", "stroke": "#D6D6D6", "strokeWidth": 2}},
            {"mark": {"type": "text", "align": "left", "dx": 21, "baseline": "middle", "fontSize": 27, "color": "#222222"},
              "encoding": {"text": {"field": "txt"}, "x": {"field": "col", "type": "nominal", "bandPosition": 0, "axis": null}}}
          ]
        }
      ]
    }
  ]
}
